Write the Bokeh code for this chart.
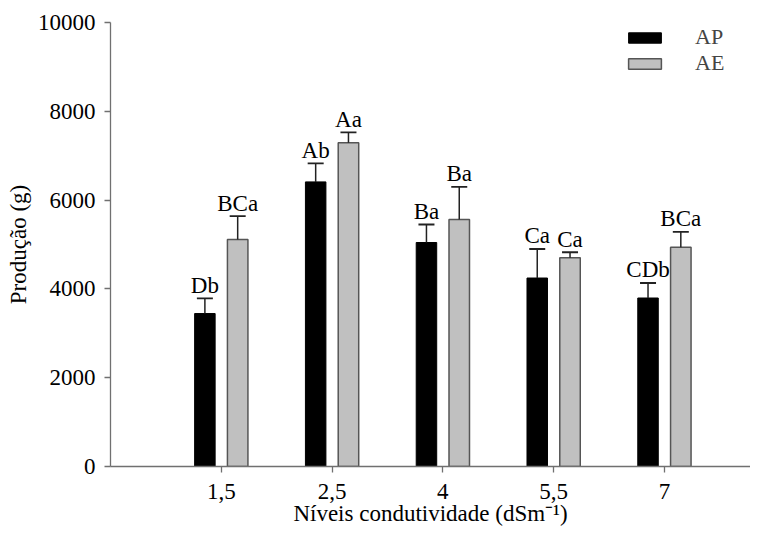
from bokeh.plotting import figure
from bokeh.models import (ColumnDataSource, Range1d, FixedTicker, Legend, LegendItem,
                          TeeHead, Whisker)
from bokeh.core.properties import value
from bokeh.embed import file_html
from bokeh.resources import INLINE

levels = ["1,5", "2,5", "4", "5,5", "7"]
ap = [3445, 6410, 5045, 4245, 3795]
ap_err = [343, 415, 405, 654, 338]
ae = [5115, 7290, 5565, 4700, 4940]
ae_err = [522, 234, 733, 125, 343]
ap_lbl = ["Db", "Ab", "Ba", "Ca", "CDb"]
ae_lbl = ["BCa", "Aa", "Ba", "Ca", "BCa"]

FONT = "Liberation Serif"
pos = list(range(1, len(levels) + 1))
off = 0.148
bw = 0.185

src_ap = ColumnDataSource(dict(
    x=[p_ - off for p_ in pos], top=ap,
    upper=[a + e for a, e in zip(ap, ap_err)], base=ap, lbl=ap_lbl))
src_ae = ColumnDataSource(dict(
    x=[p_ + off for p_ in pos], top=ae,
    upper=[a + e for a, e in zip(ae, ae_err)], base=ae, lbl=ae_lbl))

p = figure(width=750, height=528, output_backend="svg", toolbar_location=None,
           x_range=Range1d(0, 5.777), y_range=Range1d(0, 10000),
           min_border_left=110, min_border_right=0, min_border_top=22, min_border_bottom=62)
p.outline_line_color = None
p.grid.visible = False
p.background_fill_color = "white"
p.border_fill_color = "white"

r_ap = p.vbar(x="x", top="top", width=bw, source=src_ap, fill_color="black",
              line_color="black", line_width=1)
r_ae = p.vbar(x="x", top="top", width=bw, source=src_ae, fill_color="#c0c0c0",
              line_color="#555555", line_width=1.5)

for src in (src_ap, src_ae):
    w = Whisker(source=src, base="x", upper="upper", lower="base", dimension="height",
                line_color="#222222", line_width=1.5,
                upper_head=TeeHead(size=16, line_color="#222222", line_width=1.8),
                lower_head=None, level="glyph")
    p.add_layout(w)
    p.text(x="x", y="upper", text="lbl", source=src, text_font=value(FONT),
           text_font_size="23px", text_align="center", text_baseline="middle",
           y_offset=-13, text_color="black")

# axes
p.xaxis.ticker = FixedTicker(ticks=pos)
p.xaxis.major_label_overrides = {i: l for i, l in zip(pos, levels)}
p.yaxis.ticker = FixedTicker(ticks=[0, 2000, 4000, 6000, 8000, 10000])
p.xaxis.axis_label = "Níveis condutividade (dSm⁻¹)"
p.yaxis.axis_label = "Produção (g)"
for ax in (p.xaxis, p.yaxis):
    ax.axis_line_color = "#707070"
    ax.axis_line_width = 1.3
    ax.major_tick_line_color = "#707070"
    ax.major_tick_line_width = 1.3
    ax.major_tick_out = 6
    ax.major_tick_in = 0
    ax.minor_tick_line_color = None
    ax.major_label_text_font = FONT
    ax.major_label_text_font_size = "23px"
    ax.major_label_text_color = "black"
    ax.axis_label_text_font = FONT
    ax.axis_label_text_font_size = "23px"
    ax.axis_label_text_font_style = "normal"
    ax.axis_label_text_color = "black"
p.xaxis.major_label_standoff = 11
p.xaxis.axis_label_standoff = -1
p.yaxis.major_label_standoff = 9
p.yaxis.axis_label_standoff = 4

legend = Legend(items=[LegendItem(label="AP", renderers=[r_ap]),
                       LegendItem(label="AE", renderers=[r_ae])],
                location=(514, 390), orientation="vertical",
                glyph_width=41, glyph_height=13, label_standoff=30,
                label_text_font=FONT, label_text_font_size="22px",
                spacing=-2, padding=0, margin=0,
                border_line_color=None, background_fill_alpha=0)
p.add_layout(legend)

open("out.html", "w").write(file_html(p, INLINE))
